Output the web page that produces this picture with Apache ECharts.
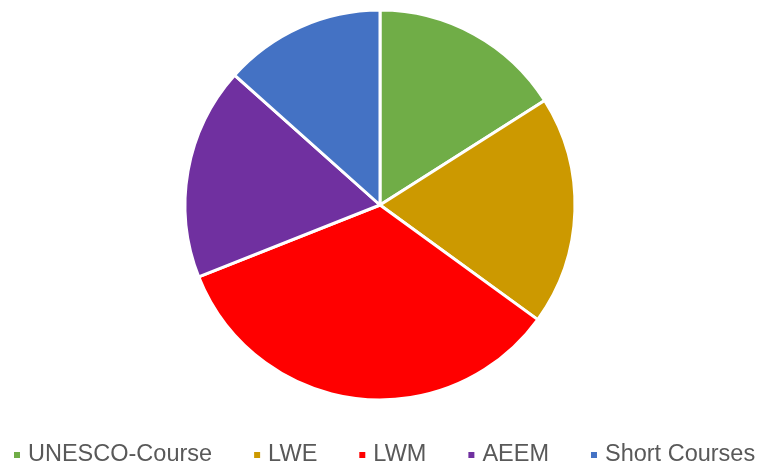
<!DOCTYPE html>
<html>
<head>
<meta charset="utf-8">
<script src="https://cdn.jsdelivr.net/npm/echarts@6/dist/echarts.min.js"></script>
<style>
  html, body { margin: 0; padding: 0; background: #fff; }
  #chart { width: 758px; height: 462px; }
</style>
</head>
<body>
<div id="chart"></div>
<script>
const categories = ["UNESCO-Course", "LWE", "LWM", "AEEM", "Short Courses"];
const values = [16, 19, 34, 17.6, 13.4];
const colors = ["#70AD47", "#CC9900", "#FF0000", "#7030A0", "#4472C4"];

const chart = echarts.init(document.getElementById("chart"));
chart.setOption({
  animation: false,
  color: colors,
  legend: {
    top: 443,
    left: 12,
    padding: 0,
    itemWidth: 8,
    itemHeight: 8,
    itemGap: 40,
    icon: "rect",
    textStyle: { fontFamily: "Liberation Sans", fontSize: 23.5, color: "#595959", padding: [0, 0, 0, 2] },
    data: categories
  },
  series: [
    {
      type: "pie",
      center: [380, 205],
      radius: 195,
      startAngle: 90,
      clockwise: true,
      label: { show: false },
      labelLine: { show: false },
      itemStyle: { borderColor: "#fff", borderWidth: 3 },
      data: categories.map((name, i) => ({ name, value: values[i] }))
    }
  ]
});
</script>
</body>
</html>
